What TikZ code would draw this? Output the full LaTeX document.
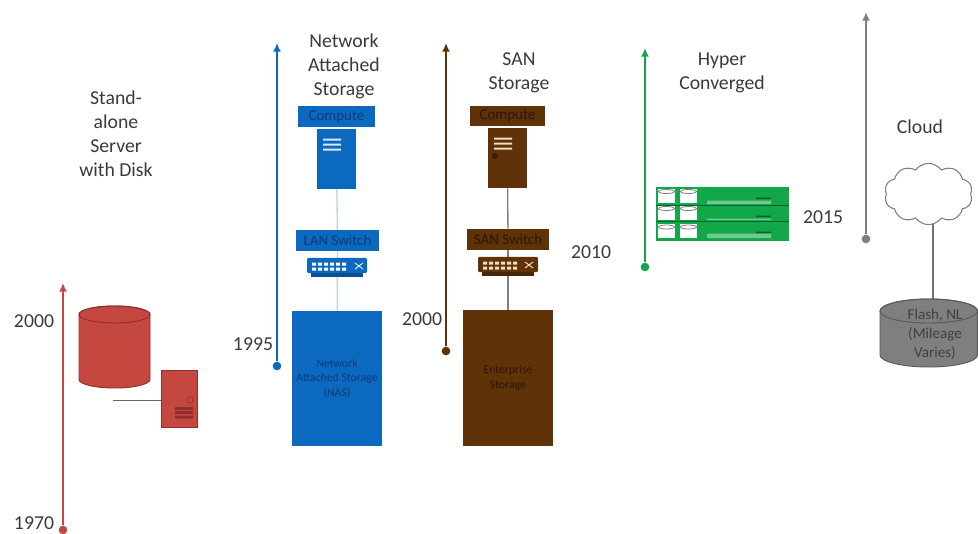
\documentclass[tikz,border=0pt]{standalone}
\usepackage{fontspec}
\setmainfont{Carlito}
\usetikzlibrary{arrows.meta,shapes.symbols,backgrounds}
\definecolor{cblue}{HTML}{0B6ABF}
\definecolor{cbluedk}{HTML}{053A78}
\definecolor{cbluel}{HTML}{BCD3E8}
\definecolor{cbrown}{HTML}{5F3208}
\definecolor{cbrowndk}{HTML}{2E1508}
\definecolor{cbrownl}{HTML}{F0DCC0}
\definecolor{cgreen}{HTML}{12A84A}
\definecolor{cgreendk}{HTML}{0B5F2C}
\definecolor{cgreenl}{HTML}{6CCB8C}
\definecolor{cred}{HTML}{C4483F}
\definecolor{creddk}{HTML}{8F2E2A}
\definecolor{cgrey}{HTML}{7F7F7F}
\definecolor{ctext}{HTML}{3A3A3A}
\tikzset{
  lbl/.style={text=ctext,font=\fontsize{14.8}{18}\selectfont,align=center,inner sep=0pt},
  tl/.style={line width=1.5pt,-{Latex[length=6.5pt,width=6pt]}},
  dot/.style={circle,inner sep=0pt,minimum size=6.5pt},
  small/.style={font=\fontsize{11.2}{13}\selectfont},
  tiny/.style={font=\fontsize{8.8}{11}\selectfont,align=center},
  block/.style={rectangle,inner sep=0pt},
}
% x1 x2 ytop ybot ry fill draw
\newcommand{\drumshape}[7]{%
  \pgfmathsetmacro{\drumcx}{(#1+#2)/2}%
  \pgfmathsetmacro{\drumrx}{(#2-#1)/2}%
  \pgfmathsetmacro{\drumyt}{#3+#5}%
  \pgfmathsetmacro{\drumyb}{#4-#5}%
  \draw[fill=#6,draw=#7,line width=.7pt] (#1,\drumyt) -- (#1,\drumyb) arc[start angle=180,end angle=360,x radius=\drumrx,y radius=-#5] -- (#2,\drumyt) arc[start angle=0,end angle=180,x radius=\drumrx,y radius=-#5] -- cycle;
  \draw[draw=#7,line width=.7pt] (\drumcx,\drumyt) ellipse[x radius=\drumrx,y radius=#5];
}
\begin{document}
\begin{tikzpicture}[x=0.75pt,y=-0.75pt]
\useasboundingbox (0,0) rectangle (978,533);
% timelines
\node[dot,fill=cred] (d1) at (63,530) {};
\coordinate (h1) at (63,283);
\draw[tl,cred] (d1) -- (h1);
\node[dot,fill=cblue] (d2) at (277,366) {};
\coordinate (h2) at (277,43);
\draw[tl,cblue] (d2) -- (h2);
\node[dot,fill=cbrown] (d3) at (446,351) {};
\coordinate (h3) at (446,43);
\draw[tl,cbrown] (d3) -- (h3);
\node[dot,fill=cgreen] (d4) at (645,267) {};
\coordinate (h4) at (645,48);
\draw[tl,cgreen] (d4) -- (h4);
\node[dot,fill=cgrey] (d5) at (866,239) {};
\coordinate (h5) at (866,12);
\draw[tl,cgrey] (d5) -- (h5);
% years
\node[lbl] (y1) at (34,321.5) {2000};
\node[lbl] (y2) at (34,523) {1970};
\node[lbl] (y3) at (253,344.5) {1995};
\node[lbl] (y4) at (422,319.5) {2000};
\node[lbl] (y5) at (591,252.5) {2010};
\node[lbl] (y6) at (823,217.5) {2015};
% titles
\node[lbl] (t1) at (116,134) {Stand-\\alone\\Server\\with Disk};
\node[lbl] (t2) at (344,66.5) {Network\\Attached\\Storage};
\node[lbl] (t3) at (519,73) {SAN\\Storage};
\node[lbl] (t4) at (722,73) {Hyper\\Converged};
\node[lbl] (t5) at (920,126.5) {Cloud};
% stand-alone
\drumshape{79}{150}{306}{388}{8.5}{cred}{creddk}
\node[block,draw=creddk,fill=cred,minimum width=27pt,minimum height=42.5pt] (srv) at (179,398.5) {};
\coordinate (wire) at (113,400);
\draw[line width=.7pt,cgrey!80!black] (wire) -- (wire -| srv.west);
\draw[creddk,line width=.5pt] (190,400) circle (3.2);
\fill[creddk] (175,407) rectangle (193,410) (175,411) rectangle (193,414) (175,415.5) rectangle (193,418.5);
% NAS column
\node[block,fill=cblue,minimum width=67.5pt,minimum height=101.25pt,text=cbluedk,tiny] (nas) at (337,378.5) {Network\\Attached Storage\\(NAS)};
\node[block,fill=cblue,minimum width=29.25pt,minimum height=45pt] (s2) at (336.5,159) {};
\node[block,fill=cblue,minimum width=62.25pt,minimum height=15.75pt,text=cbluedk,small] (lan) at (337.5,240.5) {LAN Switch};
\draw[cbluel,line width=1pt] (s2) -- (lan);
\draw[cbluel,line width=1pt] (lan) -- (nas);
\node[block,fill=cblue,minimum width=57.75pt,minimum height=15.75pt,text=cbluedk,small] (c2) at (336.5,116.5) {Compute};
\fill[white!85!cblue] (323,138.5) rectangle (341,140.5) (323,143.5) rectangle (341,145.5) (323,148.5) rectangle (341,150.5);
\fill[cblue!75!black] (311,273) rectangle (363,277);
\node[block,fill=cblue,minimum width=45pt,minimum height=11.5pt,rounded corners=1pt] (sw2) at (337,265.5) {};
\foreach \x in {312,318,324,330,336,342}{\fill[white] (\x,262.5) rectangle ++(4,3) (\x,267.5) rectangle ++(4,3);}
\draw[white,line width=.6pt] (355,263) -- (363,269) (355,269) -- (363,263);
% SAN column
\node[block,fill=cbrown,minimum width=67.5pt,minimum height=102pt,text=cbrowndk,tiny] (sto) at (508,378) {Enterprise\\Storage};
\node[block,fill=cbrown,minimum width=29.25pt,minimum height=45pt] (s3) at (507.5,158) {};
\node[block,fill=cbrown,minimum width=61.5pt,minimum height=15.75pt,text=cbrowndk,small] (san) at (508,239.5) {SAN Switch};
\draw[cgrey,line width=1pt] (s3) -- (san);
\draw[cgrey,line width=1pt] (san) -- (sto);
\node[block,fill=cbrown,minimum width=56.25pt,minimum height=15pt,text=cbrowndk,small] (c3) at (507.5,115.5) {\raisebox{-1pt}{Compute}};
\fill[cbrownl] (494,137.5) rectangle (512,139.5) (494,142.5) rectangle (512,144.5) (494,147.5) rectangle (512,149.5);
\fill[cbrowndk!70!cbrown] (495,156) circle (3);
\fill[cbrown!75!black] (482,272) rectangle (534,276);
\node[block,fill=cbrown,minimum width=45pt,minimum height=11.5pt,rounded corners=1pt] (sw3) at (508,264.5) {};
\foreach \x in {483,489,495,501,507,513}{\fill[cbrownl] (\x,261.5) rectangle ++(4,3) (\x,266.5) rectangle ++(4,3);}
\draw[cbrownl,line width=.7pt] (525,262) -- (533,268) (525,268) -- (533,262);
% hyper converged
\node[block,fill=cgreen,minimum width=99.75pt,minimum height=40.5pt] (hc) at (722.5,214) {};
\draw[cgreendk,line width=.6pt] (656,205) -- (789,205) (656,221) -- (789,221);
\foreach \x in {658,680}{
 \foreach \y in {188.5,205.5,224}{
  \fill[white] (\x,\y) rectangle ++(17,14);
  \draw[cgrey,line width=.6pt] (\x+8.5,\y+3) ellipse[x radius=8,y radius=2];
 }}
\fill[cgreenl] (707,200.5) rectangle (771,204) (707,218.5) rectangle (771,220) (707,233.5) rectangle (771,238);
\fill[cgreendk] (756,197.5) rectangle (771,199) (756,215.5) rectangle (771,217) (756,231.5) rectangle (771,233);
% cloud
\node[cloud,draw=cgrey,fill=white,line width=.8pt,cloud puffs=10,cloud puff arc=110,aspect=1.45,minimum width=66pt,minimum height=46pt,inner sep=0pt] (cl) at (928.5,194) {};
% flash drum
\drumshape{880}{977.5}{299}{367}{12}{cgrey}{cgrey!70!black}
\node[inner sep=0pt,align=center,text=black!75,font=\fontsize{11.3}{14.2}\selectfont] (fltxt) at (935,334) {Flash, NL\\(Mileage\\Varies)};
\begin{scope}[on background layer]
\coordinate (cltop) at (933,299);
\draw[cgrey!90!black,line width=.8pt] (cltop) -- (cltop |- cl.center);
\end{scope}
\end{tikzpicture}
\end{document}
